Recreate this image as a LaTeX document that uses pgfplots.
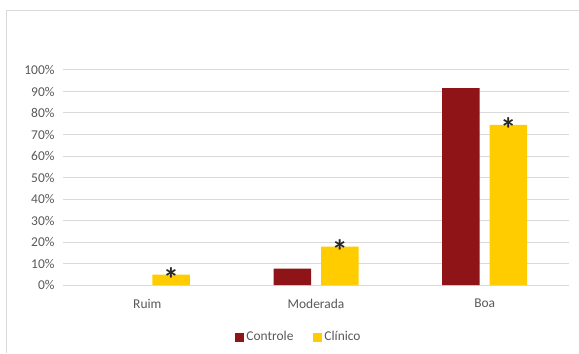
\documentclass[border=0pt]{standalone}
\usepackage{pgfplots}
\pgfplotsset{compat=1.18}
\usepackage{fontspec}
\setmainfont{Carlito}
\definecolor{ctrl}{HTML}{8E1418}
\definecolor{clin}{HTML}{FFCC00}
\definecolor{gridc}{HTML}{D9D9D9}
\definecolor{txt}{HTML}{595959}
\begin{document}
\begin{tikzpicture}[x=1bp,y=1bp]
\path[use as bounding box] (0,0) rectangle (579,353);
\draw[gridc, line width=1bp] (6,0) -- (6,342) -- (579,342);
\begin{axis}[
  at={(63bp,68bp)}, anchor=south west,
  scale only axis, width=506bp, height=215bp,
  xmin=-0.5, xmax=2.5, ymin=0, ymax=100,
  ybar, bar width=37.5bp,
  xtick={0,1,2}, xticklabels={Ruim,Moderada,Boa},
  ytick={0,10,...,100},
  yticklabel={\pgfmathprintnumber{\tick}\%},
  /pgf/number format/assume math mode=true,
  tick style={draw=none},
  axis line style={draw=none},
  ymajorgrids, grid style={gridc, line width=1bp},
  tick label style={font=\fontsize{13.5}{16}\selectfont, text=txt},
  yticklabel style={xshift=-5bp},
  xticklabel style={yshift=-6bp},
  legend style={at={(236bp,-52bp)}, anchor=center, draw=none, legend columns=2,
     font=\fontsize{13.5}{16}\selectfont, text=txt,
     /tikz/every even column/.append style={column sep=18bp}},
  legend image code/.code={\path[#1, draw=none] (0bp,-4.5bp) rectangle (9bp,4.5bp);},
]
\addplot[fill=ctrl, draw=none, bar shift=-23.75bp] coordinates {(1,7.6) (2,91.6)};
\addplot[fill=clin, draw=none, bar shift=23.75bp,
  nodes near coords={\textbf{*}},
  every node near coord/.append style={anchor=base, yshift=-16bp, inner sep=0pt,
     font=\fontsize{32}{32}\selectfont, text=black!85}] coordinates {(0,4.8) (1,17.8) (2,74.5)};
\legend{Controle, Clínico}
\end{axis}
\end{tikzpicture}
\end{document}
